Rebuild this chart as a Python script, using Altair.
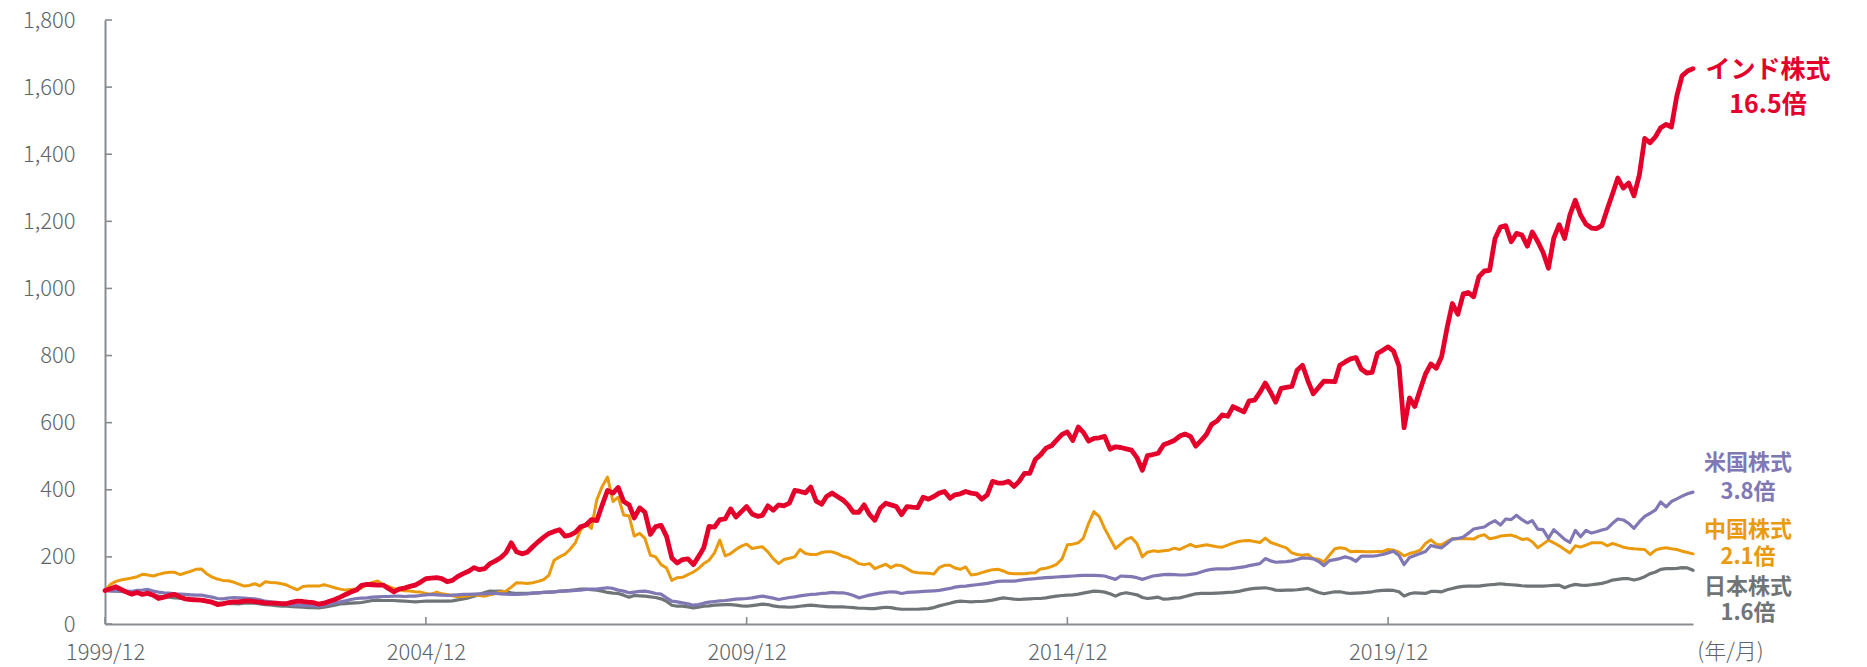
import altair as alt
import pandas as pd

# ---------------- data (monthly, 1999/12 = 100) ----------------
start_month = "1999-12-01"
n_months = 298  # 1999/12 .. 2024/09

india = [
    100, 105, 111, 103, 95, 89, 94, 88, 92, 86, 76, 80,
    85, 88, 80, 75, 73, 72, 71, 68, 65, 58, 60, 64,
    66, 66, 68, 69, 67, 65, 63, 62, 62, 61, 61, 65,
    68, 67, 65, 64, 59, 62, 68, 73, 80, 88, 95, 101,
    115, 118, 117, 116, 116, 106, 96, 104, 107, 112, 116, 125,
    135, 137, 138, 135, 126, 130, 142, 150, 157, 168, 162, 165,
    180, 188, 198, 212, 242, 215, 209, 214, 230, 245, 258, 270,
    276, 281, 262, 265, 273, 290, 295, 311, 308, 355, 398, 390,
    407, 365, 355, 316, 346, 333, 267, 290, 294, 261, 197, 182,
    192, 194, 177, 200, 227, 291, 289, 311, 313, 343, 319, 335,
    350, 328, 321, 324, 352, 339, 355, 352, 360, 398, 395, 391,
    408, 366, 357, 380, 390, 380, 370, 355, 333, 333, 355, 326,
    309, 345, 360, 355, 350, 326, 350, 348, 347, 378, 372, 380,
    390, 395, 375, 385, 388, 395, 390, 388, 372, 385, 425, 420,
    420, 425, 410, 425, 449, 449, 490, 504, 524, 531, 548, 565,
    572, 547, 587, 572, 545, 553, 555, 559, 521, 528, 526, 522,
    518, 496, 458, 502, 505, 509, 534, 540, 547, 560, 566, 559,
    530, 547, 566, 595, 605, 623, 619, 648, 640, 632, 665, 667,
    690, 718, 690, 661, 702, 705, 708, 756, 771, 724, 686, 705,
    724, 723, 722, 771, 781, 790, 794, 760, 748, 750, 806, 816,
    826, 813, 769, 585, 674, 648, 699, 745, 775, 762, 797, 883,
    955, 923, 984, 988, 975, 1035, 1052, 1054, 1149, 1183, 1187, 1139,
    1164, 1159, 1126, 1168, 1140, 1108, 1060, 1149, 1190, 1149, 1219, 1263,
    1219, 1191, 1180, 1178, 1187, 1235, 1282, 1329, 1299, 1314, 1276, 1339,
    1447, 1434, 1453, 1479, 1489, 1481, 1574, 1634, 1648, 1655,
]

us = [
    100, 98, 99, 97, 98, 97, 100, 101, 103, 98, 95, 93,
    92, 90, 89, 88, 87, 86, 86, 83, 80, 76, 75, 77,
    79, 78, 77, 76, 75, 72, 68, 66, 64, 61, 58, 57,
    56, 55, 55, 54, 53, 55, 59, 63, 66, 69, 73, 76,
    77, 78, 80, 81, 82, 82, 83, 83, 82, 83, 83, 85,
    87, 88, 87, 86, 85, 86, 87, 88, 88, 89, 90, 90,
    91, 91, 90, 89, 88, 88, 89, 90, 92, 93, 94, 95,
    96, 97, 98, 99, 100, 101, 103, 104, 104, 106, 108, 106,
    101, 98, 93, 95, 97, 98, 95, 91, 89, 78, 68, 66,
    63, 60, 56, 58, 62, 65, 67, 69, 70, 72, 74, 75,
    76, 78, 81, 83, 80, 77, 73, 76, 79, 81, 84, 86,
    88, 89, 91, 92, 94, 93, 93, 90, 85, 78, 82, 86,
    89, 92, 94, 96, 95, 91, 94, 95, 96, 97, 98, 99,
    100, 103, 106, 110, 112, 113, 115, 117, 119, 121, 124, 127,
    128, 128, 128, 130, 132, 134, 135, 137, 138, 139, 140, 141,
    142, 143, 144, 145, 145, 145, 144, 143, 138, 133, 143, 142,
    141, 138, 133, 138, 143, 145, 147, 148, 147, 146, 146, 148,
    150, 155, 160, 163, 164, 164, 164, 166, 168, 170, 174, 177,
    180, 195, 188, 184, 185, 186, 188, 192, 197, 196, 194, 186,
    174, 189, 192, 195, 200, 196, 187, 202, 202, 202, 204, 207,
    212, 217, 204, 177, 198, 204, 210, 216, 234, 230, 227, 240,
    253, 255, 259, 270, 283, 286, 289, 300, 308, 295, 313, 311,
    324, 311, 301, 308, 283, 281, 255, 281, 267, 252, 243, 279,
    260, 279, 271, 275, 280, 284, 300, 313, 310, 300, 285, 305,
    321, 330, 340, 364, 349, 365, 373, 381, 388, 393,
]

china = [
    100, 118, 127, 131, 134, 137, 141, 148, 146, 143, 148, 152,
    154, 154, 147, 152, 157, 163, 164, 150, 140, 134, 130, 129,
    125, 119, 113, 115, 120, 114, 126, 124, 123, 120, 116, 108,
    102, 112, 113, 113, 113, 117, 113, 108, 104, 101, 103, 104,
    108, 118, 124, 128, 118, 112, 106, 102, 99, 98, 96, 95,
    91, 89, 95, 90, 88, 84, 81, 82, 84, 87, 85, 83,
    87, 91, 96, 98, 110, 123, 122, 121, 123, 127, 132, 145,
    190, 200, 208, 222, 242, 280, 300, 285, 370, 410, 438, 365,
    378, 325, 322, 262, 270, 255, 205, 200, 177, 167, 130, 138,
    139, 147, 155, 165, 180, 190, 212, 250, 203, 210, 222, 232,
    238, 225, 228, 230, 215, 195, 180, 192, 196, 200, 222, 210,
    207, 207, 213, 215, 215, 210, 202, 198, 190, 180, 177, 180,
    165, 172, 178, 168, 176, 174, 165, 156, 153, 152, 151, 149,
    168, 175, 175, 167, 163, 170, 146, 148, 153, 158, 162, 163,
    158, 151, 150, 150, 150, 152, 153, 164, 166, 171, 178, 194,
    236, 238, 242, 255, 300, 335, 320, 285, 255, 225, 238, 252,
    258, 240, 200, 214, 218, 216, 218, 220, 226, 222, 230, 237,
    230, 233, 236, 233, 230, 229, 235, 241, 246, 248, 249, 246,
    243, 256, 243, 238, 232, 227, 212, 207, 205, 207, 195, 193,
    185, 205, 224, 227, 225, 215, 217, 216, 215, 215, 216, 216,
    222, 220, 214, 203, 210, 214, 220, 240, 251, 237, 236, 246,
    254, 254, 254, 254, 253, 262, 266, 254, 257, 262, 264, 265,
    260, 252, 254, 245, 227, 238, 250, 242, 233, 222, 212, 233,
    229, 235, 242, 242, 242, 233, 240, 235, 229, 226, 224, 223,
    222, 207, 220, 225, 227, 224, 222, 217, 213, 209,
]

japan = [
    100, 100, 98, 97, 95, 94, 92, 90, 88, 85, 83, 81,
    80, 78, 77, 75, 74, 73, 73, 70, 66, 63, 62, 61,
    61, 60, 62, 63, 62, 60, 58, 57, 55, 53, 53, 52,
    51, 50, 49, 49, 48, 50, 53, 56, 60, 61, 62, 63,
    64, 67, 70, 71, 70, 70, 70, 69, 68, 67, 66, 67,
    68, 68, 68, 68, 68, 69, 72, 75, 78, 83, 88, 94,
    98, 97, 98, 96, 93, 91, 91, 91, 92, 93, 94, 95,
    96, 98, 99, 100, 102, 104, 104, 102, 101, 98, 94, 92,
    91, 86, 80, 85, 84, 83, 81, 79, 75, 68, 56, 53,
    53, 51, 48, 50, 53, 54, 56, 57, 58, 58, 56, 54,
    53, 55, 57, 59, 58, 54, 52, 51, 50, 51, 53, 55,
    56, 55, 53, 52, 51, 51, 51, 50, 49, 47, 47, 46,
    46, 48, 50, 49, 46, 44, 44, 44, 44, 45, 46, 49,
    54, 58, 62, 66, 68, 67, 66, 67, 67, 69, 71, 75,
    78, 76, 74, 73, 74, 75, 76, 76, 78, 81, 83, 85,
    86, 87, 89, 92, 95, 98, 97, 95, 90, 83, 90, 93,
    90, 87, 79, 76, 78, 80, 74, 75, 77, 78, 82, 86,
    90, 91, 91, 91, 92, 93, 94, 95, 97, 101, 104, 106,
    107, 108, 105, 101, 100, 101, 101, 102, 104, 106, 100, 94,
    90, 93, 96, 96, 93, 91, 92, 93, 94, 96, 99, 100,
    101, 100, 96, 83, 90, 93, 92, 91, 97, 97, 96, 102,
    106, 110, 112, 113, 113, 113, 115, 117, 118, 120, 118, 117,
    116, 114, 113, 113, 113, 113, 114, 115, 116, 108, 114, 118,
    116, 115, 117, 119, 121, 125, 131, 133, 135, 135, 131, 135,
    141, 150, 155, 163, 165, 165, 166, 168, 167, 160,
]

series_names = ["インド株式", "米国株式", "中国株式", "日本株式"]
multiples = ["16.5倍", "3.8倍", "2.1倍", "1.6倍"]
x_tick_dates = ["1999-12-01", "2004-12-01", "2009-12-01", "2014-12-01", "2019-12-01"]
y_tick_values = [0, 200, 400, 600, 800, 1000, 1200, 1400, 1600, 1800]
x_unit_label = "(年/月)"

# ---------------- styles ----------------
colors = {
    "インド株式": "#E5002B",
    "米国株式": "#7F78B4",
    "中国株式": "#EB9A0E",
    "日本株式": "#6F7576",
}
widths = {"インド株式": 4.8, "米国株式": 3.2, "中国株式": 3.0, "日本株式": 3.2}
axis_color = "#878C90"
label_color = "#5E6468"
FONT = "Noto Sans CJK JP"
TICK_FS = 22

W, H = 1588, 604

dates = pd.date_range(start_month, periods=n_months, freq="MS").strftime("%Y-%m-%d")
values = {"インド株式": india, "米国株式": us, "中国株式": china, "日本株式": japan}

x_scale = alt.Scale(
    type="utc",
    domain=[alt.DateTime(year=1999, month=12, date=1, utc=True),
            alt.DateTime(year=2024, month=9, date=1, utc=True)],
)
y_scale = alt.Scale(domain=[0, 1800], nice=False)

x_axis = alt.Axis(
    values=[alt.DateTime(year=int(d[:4]), month=int(d[5:7]), date=1, utc=True) for d in x_tick_dates],
    format="%Y/%m",
    ticks=False,
    grid=False,
    labelFlush=False,
    labelPadding=18,
    labelFontSize=TICK_FS,
    labelFont=FONT,
    labelFontWeight=300,
    labelColor=label_color,
    domainColor=axis_color,
    domainWidth=2,
    title=x_unit_label,
    titleFont=FONT,
    titleFontSize=TICK_FS,
    titleFontWeight=300,
    titleColor=label_color,
    titleX=W + 37,
    titleY=27,
    titleAlign="center",
    titleBaseline="middle",
)
y_axis = alt.Axis(
    values=y_tick_values,
    format=",d",
    ticks=False,
    grid=False,
    labelFlush=False,
    labelPadding=30,
    labelFontSize=TICK_FS,
    labelFont=FONT,
    labelFontWeight=300,
    labelColor=label_color,
    domainColor=axis_color,
    domainWidth=2,
    title=None,
)

layers = []
for name in ["日本株式", "中国株式", "米国株式", "インド株式"]:
    df = pd.DataFrame({"date": dates, "value": values[name]})
    layer = alt.Chart(df).mark_line(
        color=colors[name], strokeWidth=widths[name], strokeJoin="round", strokeCap="round"
    ).encode(
        x=alt.X("date:T", scale=x_scale, axis=x_axis),
        y=alt.Y("value:Q", scale=y_scale, axis=y_axis),
    )
    layers.append(layer)

# inward tick marks
ytick_df = pd.DataFrame({"v": y_tick_values})
yticks = alt.Chart(ytick_df).mark_rule(color=axis_color, strokeWidth=1.6).encode(
    y=alt.Y("v:Q", scale=y_scale, axis=y_axis),
    x=alt.value(0),
    x2=alt.value(7),
)
xtick_df = pd.DataFrame({"d": x_tick_dates})
xticks = alt.Chart(xtick_df).mark_rule(color=axis_color, strokeWidth=1.6).encode(
    x=alt.X("d:T", scale=x_scale, axis=x_axis),
    y=alt.value(H),
    y2=alt.value(H - 7),
)

# right-side annotations: (x, y line1, y line2, font size) in plot pixels
anno_pos = {
    "インド株式": (W + 75, 50, 85, 25),
    "米国株式": (W + 55, 443, 472, 22),
    "中国株式": (W + 55, 510, 537, 22),
    "日本株式": (W + 55, 567, 593, 22),
}
dummy = pd.DataFrame({"k": [0]})
annos = []
for name, mult in zip(series_names, multiples):
    px, py1, py2, fs = anno_pos[name]
    for txt, py in ((name, py1), (mult, py2)):
        annos.append(
            alt.Chart(dummy).mark_text(
                font=FONT, fontSize=fs, fontWeight="bold", color=colors[name],
                align="center", baseline="middle",
            ).encode(x=alt.value(px), y=alt.value(py), text=alt.value(txt))
        )

chart = alt.layer(*layers, yticks, xticks, *annos).properties(
    width=W,
    height=H,
    padding={"left": 97, "top": 12, "right": 160, "bottom": 44},
    autosize=alt.AutoSizeParams(type="none"),
    background="white",
).configure_view(stroke=None)

chart.save("out.html", embed_options={"renderer": "svg", "actions": False})
